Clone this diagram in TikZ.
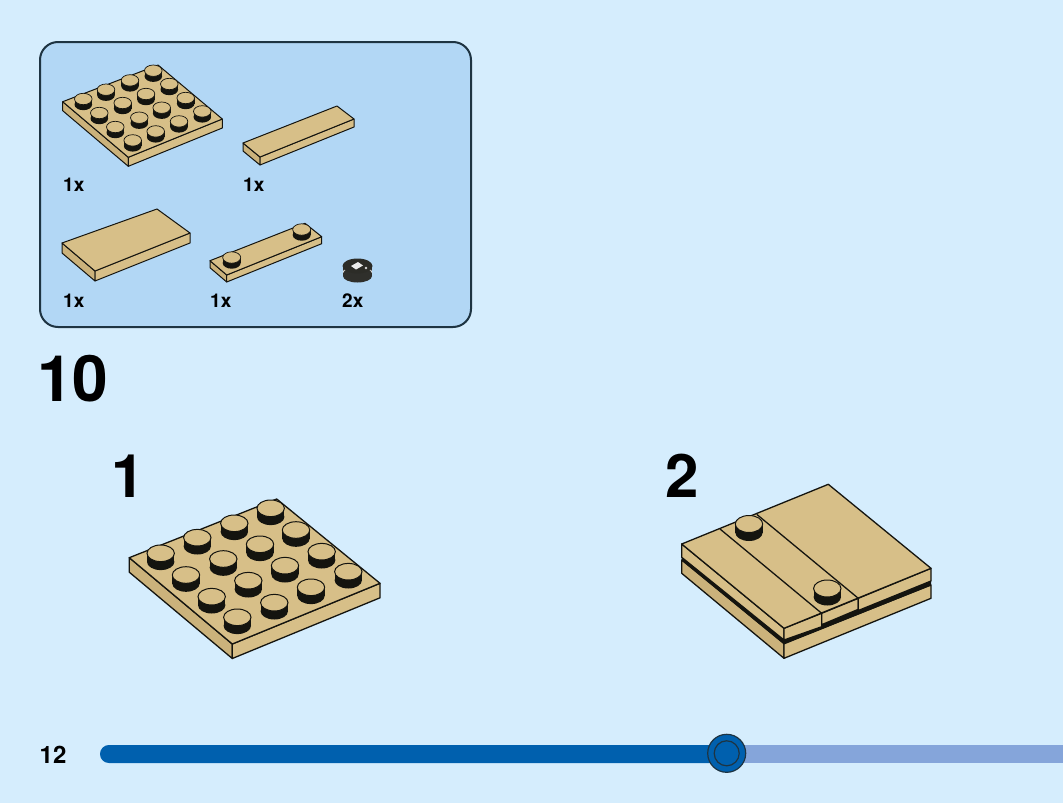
\documentclass[tikz,border=0pt]{standalone}
\usepackage{fontspec}
\setmainfont{TeX Gyre Heros}
\definecolor{bgc}{HTML}{D5EDFD}
\definecolor{panelc}{HTML}{B2D7F5}
\definecolor{panelline}{HTML}{1E3442}
\definecolor{tan}{HTML}{D7BF88}
\definecolor{tanleft}{HTML}{CBB27B}
\definecolor{tanright}{HTML}{D7BF88}
\definecolor{ink}{HTML}{14140F}
\definecolor{barD}{HTML}{0060AE}
\definecolor{barL}{HTML}{85A5DA}
\tikzset{
  brick/.style={fill=tan,draw=ink,line width=#1,line join=round},
  brick/.default=1.3pt,
  lbl/.style={inner sep=0pt,anchor=base west,font=\bfseries\fontsize{19}{19}\selectfont,text=black},
  steplbl/.style={inner sep=0pt,anchor=base west,font=\bfseries\fontsize{60}{60}\selectfont,text=black},
}
% stud: x, y (centre of top), rx, ry, height, line width
\newcommand{\brickstud}[6]{%
  \fill[ink] (#1-#3,#2) -- (#1-#3,#2+#5) -- (#1+#3,#2+#5) -- (#1+#3,#2) -- cycle;
  \fill[ink] (#1,#2+#5) ellipse [x radius=#3 pt,y radius=#4 pt];
  \draw[fill=tan,draw=ink,line width=#6pt] (#1,#2) ellipse [x radius=#3 pt,y radius=#4 pt];
}
% plate: left, back, right, front (top corners), thickness, line width
\newcommand{\brickplate}[6]{%
  \path (#1) ++(0,#5) coordinate (pLB);
  \path (#4) ++(0,#5) coordinate (pFB);
  \path (#3) ++(0,#5) coordinate (pRB);
  \draw[brick=#6pt,fill=tanleft] (#1) -- (#4) -- (pFB) -- (pLB) -- cycle;
  \draw[brick=#6pt,fill=tanright] (#4) -- (#3) -- (pRB) -- (pFB) -- cycle;
  \draw[brick=#6pt] (#1) -- (#2) -- (#3) -- (#4) -- cycle;
}
\begin{document}
\begin{tikzpicture}[x=1pt,y=-1pt]
\useasboundingbox (0,0) rectangle (1063,803);
\fill[bgc] (0,0) rectangle (1063,803);

% parts panel
\draw[fill=panelc,draw=panelline,line width=2pt,rounded corners=18pt] (40,42) rectangle (471,327);

% 4x4 plate in panel
\brickplate{62.7,101.7}{158,65}{222.3,119}{128.3,157.3}{9}{1}
\foreach \a/\b in {83.3/99,106/89.7,130/80.4,153.3/70.7,
                   99.3/113,122.7/103,146/94,169.3/84,
                   115.3/127,139.3/117.7,161.7/107.7,185.7/98,
                   132.7/140.4,155.7/131.4,179/121.4,202.3/111.4}
  {\brickstud{\a}{\b}{8.8}{5.7}{5.5}{0.7}}
\node[lbl] (c1) at (63,191) {1x};

% 1x4 tile
\brickplate{243,143}{337,106}{354,119}{260,157}{8}{1}
\node[lbl] (c2) at (243,191) {1x};

% 2x4 tile
\brickplate{62,243}{157,209}{190,233}{95,271}{10}{1}
\node[lbl] (c3) at (63,307) {1x};

% 1x4 plate with two studs
\brickplate{210,260.7}{305,223.3}{321.7,236.7}{226.7,275}{7}{1}
\brickstud{231.7}{257.5}{9}{5.7}{5.5}{0.7}
\brickstud{301.7}{229.5}{9}{5.7}{5.5}{0.7}
\node[lbl] (c4) at (210,307) {1x};

% round black piece
\fill[ink!75!gray] (343,267) -- (343,276) -- (372,276) -- (372,267) -- cycle;
\fill[ink!75!gray] (357.5,276) ellipse [x radius=14.5pt,y radius=6.5pt];
\draw[white!75!gray,line width=0.9pt] (343,272.5) arc[start angle=180,end angle=360,x radius=14.5pt,y radius=-5.5pt];
\fill[ink!90] (357.5,266) ellipse [x radius=15pt,y radius=7.5pt];
\fill[white!85!gray] (351,266) -- (358,262) -- (363,265.5) -- (356,269.5) -- cycle;
\fill[white!70!gray] (366,268) circle [radius=1.3pt];
\node[lbl] (c5) at (342,307) {2x};

% step number
\node[inner sep=0pt,anchor=base west,font=\bfseries\fontsize{64}{64}\selectfont,text=black] (stepno) at (37,401) {10};
\node[steplbl] (sub1) at (111,497) {1};
\node[steplbl] (sub2) at (665,497) {2};

% sub-step 1 model
\brickplate{129.3,557.7}{276.7,499}{380,583.3}{232.3,644}{14.5}{1.3}
\foreach \a/\b in {160.7/553.3,197.3/537.7,234.3/523.3,270.7/508.3,
                   186/575,223.3/559,260/544.3,296/530,
                   211.7/596.7,248.3/580.7,285/565.7,321.7/551.7,
                   237.3/617.3,274.3/602.7,311/587.3,348.3/571.7}
  {\brickstud{\a}{\b}{13.7}{8.3}{8.5}{1}}

% sub-step 2 model
\draw[brick=1.3pt,fill=tanleft] (681.7,560) -- (784,643.3) -- (784,658.3) -- (681.7,573.3) -- cycle;
\draw[brick=1.3pt] (784,643.3) -- (931,585) -- (931,598.3) -- (784,658.3) -- cycle;
\fill[ink] (681.7,556) -- (784,639) -- (931,580) -- (931,585.5) -- (784,644.5) -- (681.7,560.5) -- cycle;
\draw[brick=1.3pt,fill=tan] (681.7,544) -- (784,628.3) -- (784,640) -- (681.7,557.3) -- cycle;
\draw[brick=1.3pt,fill=tan] (784,628.3) -- (821.7,613.3) -- (821.7,626.7) -- (784,640) -- cycle;
\draw[brick=1.3pt,fill=tan] (821.7,613.3) -- (858.3,598.3) -- (858.3,609.3) -- (821.7,624.7) -- cycle;
\draw[brick=1.3pt,fill=tan] (858.3,598.3) -- (931,568.3) -- (931,581) -- (858.3,610.5) -- cycle;
\draw[brick=1.3pt,fill=tan] (681.7,544) -- (828.3,484.3) -- (931,568.3) -- (784,628.3) -- cycle;
\draw[ink,line width=1.3pt] (720,529) -- (821.7,613.3);
\draw[ink,line width=1.3pt] (756.7,514.3) -- (858.3,598.3);
\brickstud{749}{524}{13.7}{8.5}{8.5}{1}
\brickstud{827.3}{588.5}{13.7}{8.5}{8.5}{1}

% progress bar
\fill[barL] (727,745) rectangle (1063,763);
\fill[barD,rounded corners=8.9pt] (100,745) rectangle (740,763);
\fill[barL] (740,745) rectangle (750,763);
\node[inner sep=0pt,anchor=base west,font=\bfseries\fontsize{24}{24}\selectfont,text=black] (pageno) at (39.5,763) {12};
\draw[fill=barD,draw=panelline,line width=1.2pt] (726.7,753.3) circle [radius=19pt];
\draw[draw=panelline,line width=1.2pt] (726.7,753.3) circle [radius=12.5pt];
\end{tikzpicture}
\end{document}
